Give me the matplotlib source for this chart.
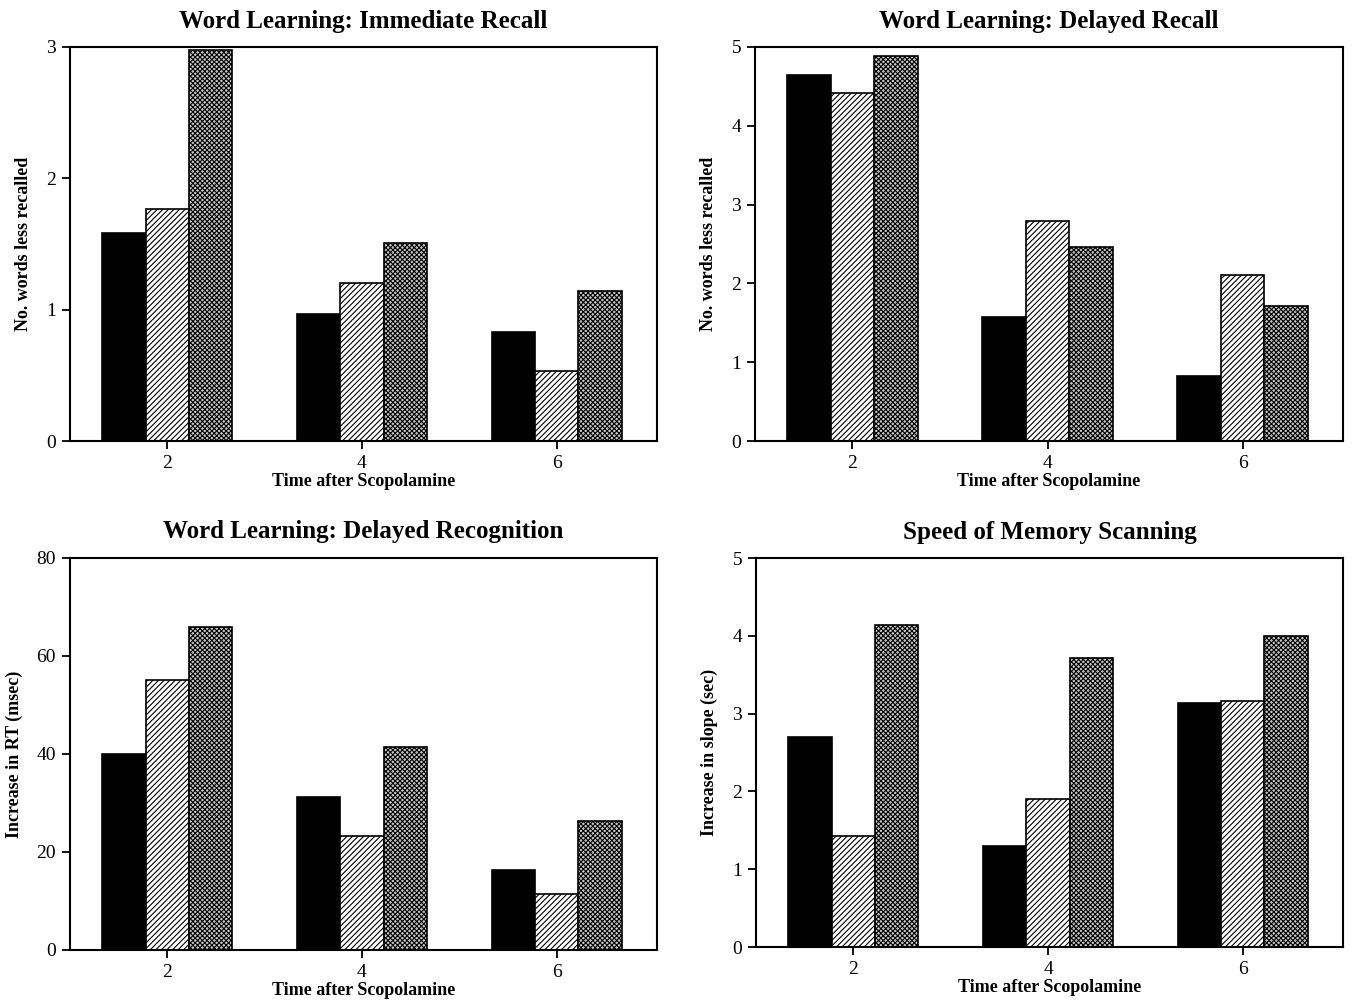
import numpy as np
import matplotlib
matplotlib.use("Agg")
import matplotlib.pyplot as plt

plt.rcParams['font.family'] = ['Liberation Serif', 'DejaVu Serif']
plt.rcParams['hatch.linewidth'] = 0.8

# hours after scopolamine
hours = [2, 4, 6]

# three bars per time point: solid, hatched, stippled
titles = [
    "Word Learning: Immediate Recall",
    "Word Learning: Delayed Recall",
    "Word Learning: Delayed Recognition",
    "Speed of Memory Scanning",
]
ylabels = [
    "No. words less recalled",
    "No. words less recalled",
    "Increase in RT (msec)",
    "Increase in slope (sec)",
]
ylims = [3, 5, 80, 5]
yticks = [[0, 1, 2, 3], [0, 1, 2, 3, 4, 5], [0, 20, 40, 60, 80], [0, 1, 2, 3, 4, 5]]

immediate_solid = [1.58, 0.97, 0.83]
immediate_hatch = [1.77, 1.20, 0.53]
immediate_dots = [2.98, 1.51, 1.14]

delayed_solid = [4.64, 1.57, 0.82]
delayed_hatch = [4.42, 2.79, 2.11]
delayed_dots = [4.89, 2.46, 1.71]

recog_solid = [39.9, 31.3, 16.4]
recog_hatch = [55.0, 23.3, 11.5]
recog_dots = [66.0, 41.5, 26.4]

scan_solid = [2.70, 1.30, 3.14]
scan_hatch = [1.43, 1.90, 3.16]
scan_dots = [4.14, 3.71, 4.00]

panels = [
    (immediate_solid, immediate_hatch, immediate_dots),
    (delayed_solid, delayed_hatch, delayed_dots),
    (recog_solid, recog_hatch, recog_dots),
    (scan_solid, scan_hatch, scan_dots),
]

# axes rectangles in figure fractions
rects = [
    [0.0517, 0.5616, 0.4338, 0.3917],
    [0.5580, 0.5616, 0.4346, 0.3917],
    [0.0517, 0.0557, 0.4338, 0.3897],
    [0.5588, 0.0586, 0.4338, 0.3867],
]

fig = plt.figure(figsize=(13.53, 10.06), dpi=100)
x = np.array(hours, dtype=float)
w = 0.445

for i in range(4):
    ax = fig.add_axes(rects[i])
    solid, hatch, dots = panels[i]
    ax.bar(x - w, solid, w, color="black", edgecolor="black", linewidth=1.2)
    ax.bar(x, hatch, w, color="white", edgecolor="black", hatch="//////", linewidth=1.2)
    ax.bar(x + w, dots, w, color="#c8c8c8", edgecolor="black", hatch="xxxxxxx", linewidth=1.2)

    ax.set_xlim(1, 7.03)
    ax.set_ylim(0, ylims[i])
    ax.set_xticks(hours)
    ax.set_yticks(yticks[i])
    ax.tick_params(direction="out", length=6, width=1.3, labelsize=14, pad=4)
    for s in ax.spines.values():
        s.set_linewidth(1.5)

    ax.set_title(titles[i], fontsize=18, fontweight="bold", pad=14)
    ax.set_ylabel(ylabels[i], fontsize=13, fontweight="bold", labelpad=10)
    ax.set_xlabel("Time after Scopolamine", fontsize=13, fontweight="bold", labelpad=1)

fig.savefig("out.png", dpi=100)
